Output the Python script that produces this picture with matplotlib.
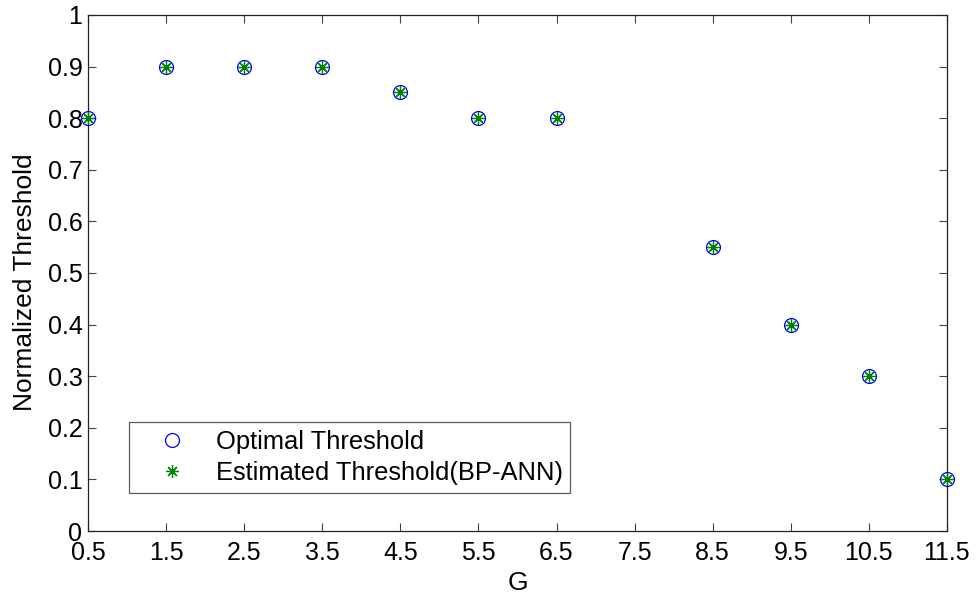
import matplotlib
matplotlib.use("Agg")
import matplotlib.pyplot as plt

plt.rcParams['font.family'] = ['Liberation Sans', 'DejaVu Sans']

g_values = [0.5, 1.5, 2.5, 3.5, 4.5, 5.5, 6.5, 8.5, 9.5, 10.5, 11.5]
optimal = [0.8, 0.9, 0.9, 0.9, 0.85, 0.8, 0.8, 0.55, 0.4, 0.3, 0.1]
estimated = [0.8, 0.9, 0.9, 0.9, 0.85, 0.8, 0.8, 0.55, 0.4, 0.3, 0.1]
x_ticks = [0.5, 1.5, 2.5, 3.5, 4.5, 5.5, 6.5, 7.5, 8.5, 9.5, 10.5, 11.5]
y_ticks = [0, 0.1, 0.2, 0.3, 0.4, 0.5, 0.6, 0.7, 0.8, 0.9, 1]

fig = plt.figure(figsize=(9.76, 5.96), dpi=100)
ax = fig.add_axes([0.0902, 0.109, 0.880, 0.866])

ax.plot(g_values, optimal, linestyle='none', marker='o', markersize=10,
        markerfacecolor='none', markeredgecolor=(0, 0, 1), markeredgewidth=0.9,
        label='Optimal Threshold', clip_on=False, zorder=3)
ax.plot(g_values, estimated, linestyle='none', marker=(8, 2, 0), markersize=9,
        color=(0, 0.5, 0), markeredgewidth=0.9,
        label='Estimated Threshold(BP-ANN)', clip_on=False, zorder=4)

ax.set_xlim(0.5, 11.5)
ax.set_ylim(0, 1)
ax.set_xticks(x_ticks)
ax.set_xticklabels([f"{v:g}" for v in x_ticks])
ax.set_yticks(y_ticks)
ax.set_yticklabels([f"{v:g}" for v in y_ticks])
ax.tick_params(direction='in', top=True, right=True, length=6, width=0.8,
               labelsize=18, color='#444444')
ax.tick_params(axis='x', pad=7)
ax.tick_params(axis='y', pad=4)
for s in ax.spines.values():
    s.set_linewidth(0.9)
    s.set_color('#222222')

ax.set_xlabel('G', fontsize=19)
ax.set_ylabel('Normalized Threshold', fontsize=19)
ax.xaxis.set_label_coords(0.5, -0.078)
ax.yaxis.set_label_coords(-0.059, 0.483)

leg = ax.legend(loc='lower left', bbox_to_anchor=(0.048, 0.074), fontsize=18.4,
                frameon=True, fancybox=False, edgecolor='#333333',
                borderpad=0.3, handletextpad=0.3, borderaxespad=0,
                labelspacing=0.28, handlelength=2.78)
leg.get_frame().set_linewidth(0.9)

fig.savefig('out.png', dpi=100)
